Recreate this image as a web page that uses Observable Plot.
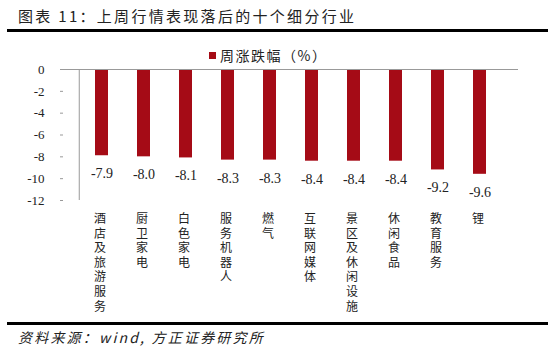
<!DOCTYPE html>
<html>
<head>
<meta charset="utf-8">
<script src="https://cdn.jsdelivr.net/npm/d3@7"></script>
<script src="https://cdn.jsdelivr.net/npm/@observablehq/plot@0.6"></script>
<style>
  html, body { margin: 0; padding: 0; background: #fff; }
  #page { position: relative; width: 550px; height: 351px; overflow: hidden; font-family: "Noto Sans CJK SC", sans-serif; }
  #title { position: absolute; left: 18px; top: 5px; font-size: 15px; letter-spacing: 2.3px; color: #222; white-space: nowrap; }
  .rule { position: absolute; left: 7px; width: 541px; height: 3px; background: #000; }
  #legend { position: absolute; left: 209px; top: 45px; font-size: 14px; letter-spacing: 1.5px; color: #222; white-space: nowrap; display: flex; align-items: center; }
  #legend .sw { display: inline-block; width: 7px; height: 7px; background: #a50b16; margin-right: 4px; }
  #chart { position: absolute; left: 0; top: 62px; }
  #caption { position: absolute; left: 18px; top: 327px; font-size: 14px; font-style: italic; letter-spacing: 2.2px; color: #222; white-space: nowrap; }
</style>
</head>
<body>
<div id="page">
  <div id="title">图表 11：上周行情表现落后的十个细分行业</div>
  <div class="rule" style="top:29px"></div>
  <div id="legend"><span class="sw"></span>周涨跌幅（%）</div>
  <div id="chart"></div>
  <div class="rule" style="top:322px"></div>
  <div id="caption">资料来源：wind, 方正证券研究所</div>
</div>
<script>
const categories = ["酒店及旅游服务", "厨卫家电", "白色家电", "服务机器人", "燃气", "互联网媒体", "景区及休闲设施", "休闲食品", "教育服务", "锂"];
const values = [-7.9, -8.0, -8.1, -8.3, -8.3, -8.4, -8.4, -8.4, -9.2, -9.6];
const yTicks = [0, -2, -4, -6, -8, -10, -12];
const seriesName = "周涨跌幅（%）";

const data = categories.map((c, i) => ({category: c, value: values[i]}));
const W = 550, mL = 63, mR = 32;
const step = (W - mL - mR) / categories.length;

const chart = Plot.plot({
  width: W,
  height: 258,
  marginLeft: mL,
  marginRight: mR,
  marginTop: 7,
  marginBottom: 120,
  style: {fontFamily: "'Liberation Serif', serif", fontSize: "13px", color: "#222", background: "transparent"},
  x: {domain: categories, padding: 0.69, axis: null},
  y: {domain: [-12, 0], ticks: yTicks},
  marks: [
    Plot.barY(data, {x: "category", y: "value", fill: "#a50b16"}),
    Plot.ruleY([0], {stroke: "#999", strokeWidth: 1}),
    Plot.ruleX(categories, {x: "category", y1: 0.15, y2: -0.35, dx: step / 2, stroke: "#999"}),
    Plot.ruleX([categories[0]], {x: d => d, y1: 0, y2: -12, dx: -step / 2, stroke: "#999"}),
    Plot.axisY({ticks: yTicks, tickSize: 3, tickPadding: 16, stroke: "#999", fontSize: 13, fill: "#222", label: null, tickFormat: d => String(d)}),
    Plot.text(data, {x: "category", y: "value", text: d => d.value.toFixed(1), dy: 18, fontSize: 14, fill: "#222"}),
    Plot.axisX({
      tickSize: 0, tickPadding: 12, label: null, fontSize: 12, fill: "#222",
      fontFamily: "'Liberation Serif', 'Noto Sans CJK SC', serif",
      lineAnchor: "top", lineHeight: 1.22, dx: -2,
      tickFormat: d => Array.from(d).join("\n")
    })
  ]
});
document.getElementById("chart").appendChild(chart);
</script>
</body>
</html>
